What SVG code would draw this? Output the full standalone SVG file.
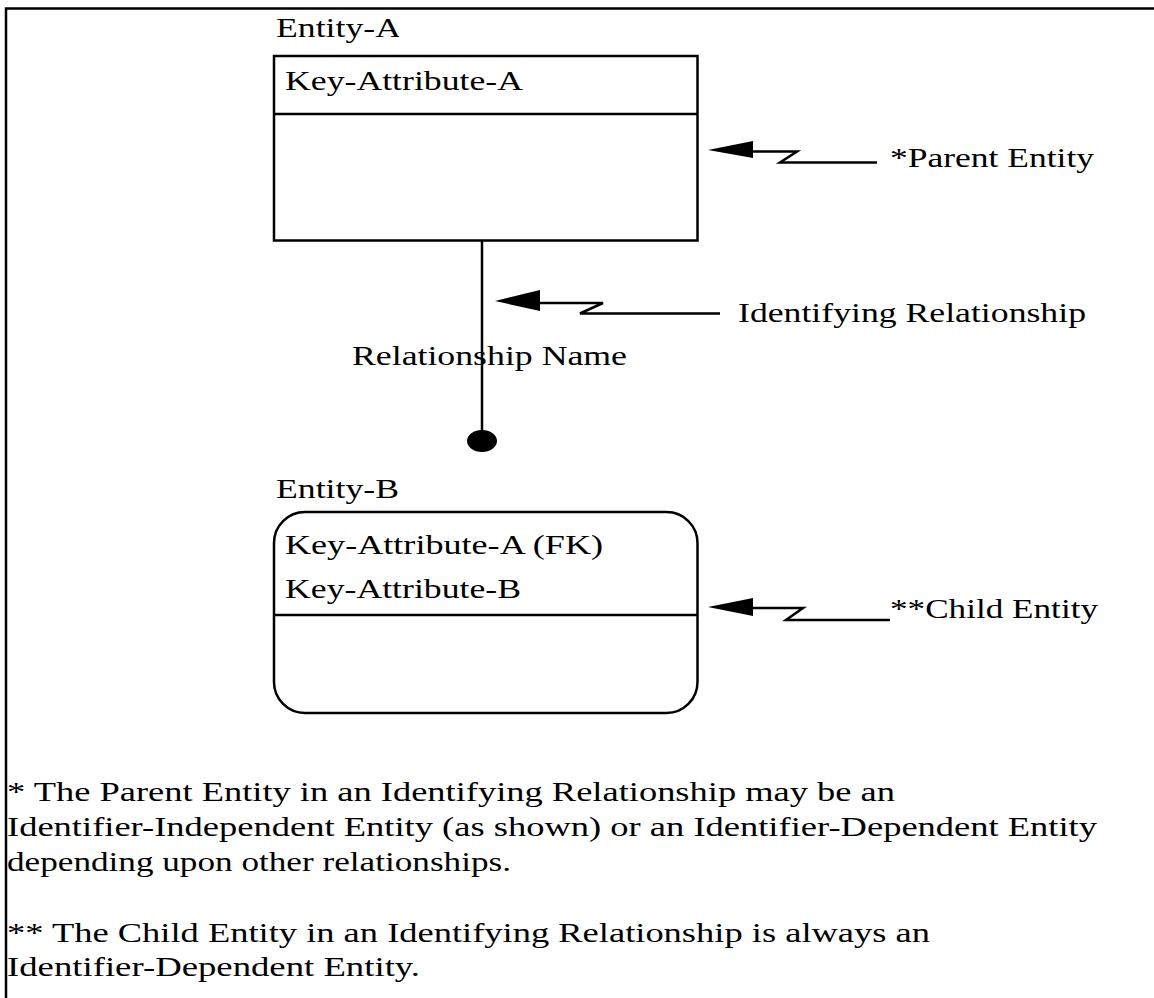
<svg xmlns="http://www.w3.org/2000/svg" width="1154" height="998" viewBox="0 0 1154 998">
  <style>
    .frame { fill: none; stroke: #000; stroke-width: 2.5; }
    .box { fill: #fff; stroke: #000; stroke-width: 2.5; }
    .line { fill: none; stroke: #000; stroke-width: 2.5; }
    .head { fill: #000; stroke: none; }
    .lbl { font-family: "Liberation Serif", "Times New Roman", serif; font-size: 27px; fill: #000; }
    .note { font-family: "Liberation Serif", "Times New Roman", serif; font-size: 27px; fill: #000; }
  </style>
  <defs>
    <clipPath id="clip-title-a"><rect x="270" y="0" width="129" height="50"/></clipPath>
    <clipPath id="clip-fk"><rect x="280" y="520" width="322" height="45"/></clipPath>
  </defs>
  <rect width="1154" height="998" fill="#fff"/>

  <!-- page frame: top and left rules -->
  <path class="frame" d="M6,998 V8.5 H1154"/>

  <!-- parent entity -->
  <g id="entity-a">
    <text class="lbl" x="276" y="37" textLength="125" lengthAdjust="spacingAndGlyphs" clip-path="url(#clip-title-a)">Entity-A</text>
    <rect class="box" x="274" y="56" width="423.5" height="184.5"/>
    <line class="line" x1="274" y1="114" x2="697.5" y2="114"/>
    <text class="lbl" x="285" y="90" textLength="238" lengthAdjust="spacingAndGlyphs">Key-Attribute-A</text>
  </g>

  <!-- child entity -->
  <g id="entity-b">
    <text class="lbl" x="276" y="498" textLength="123" lengthAdjust="spacingAndGlyphs">Entity-B</text>
    <rect class="box" x="274" y="512" width="423.5" height="201" rx="31" ry="31"/>
    <line class="line" x1="274" y1="615" x2="697.5" y2="615"/>
    <text class="lbl" x="285" y="554" textLength="318" lengthAdjust="spacingAndGlyphs" clip-path="url(#clip-fk)">Key-Attribute-A (FK)</text>
    <text class="lbl" x="285" y="598" textLength="236" lengthAdjust="spacingAndGlyphs">Key-Attribute-B</text>
  </g>

  <!-- identifying relationship line with its dot end -->
  <g id="connectors">
    <line class="line" x1="482" y1="240.5" x2="482" y2="436"/>
    <ellipse class="head" cx="482" cy="441" rx="15" ry="11"/>
    <text class="lbl" x="352" y="365" textLength="275" lengthAdjust="spacingAndGlyphs">Relationship Name</text>
  </g>

  <!-- callouts -->
  <g id="callout-parent">
    <polygon class="head" points="708,150 753,141 753,158"/>
    <path class="line" d="M752,151.5 H797 L780,162.5 H877"/>
    <text class="lbl" x="890" y="167" textLength="204" lengthAdjust="spacingAndGlyphs">*Parent Entity</text>
  </g>

  <g id="callout-relationship">
    <polygon class="head" points="495,301 540,290 540,311"/>
    <path class="line" d="M539,303 H603 L580,313.5 H720"/>
    <text class="lbl" x="738" y="322" textLength="348" lengthAdjust="spacingAndGlyphs">Identifying Relationship</text>
  </g>

  <g id="callout-child">
    <polygon class="head" points="708,607 753,598 753,616"/>
    <path class="line" d="M752,608 H803 L786,620 H890"/>
    <text class="lbl" x="890" y="618" textLength="208" lengthAdjust="spacingAndGlyphs">**Child Entity</text>
  </g>

  <!-- footnotes -->
  <g id="notes">
    <text class="note" x="7" y="801" textLength="888" lengthAdjust="spacingAndGlyphs">* The Parent Entity in an Identifying Relationship may be an</text>
    <text class="note" x="7" y="836" textLength="1090" lengthAdjust="spacingAndGlyphs">Identifier-Independent Entity (as shown) or an Identifier-Dependent Entity</text>
    <text class="note" x="7" y="871" textLength="504" lengthAdjust="spacingAndGlyphs">depending upon other relationships.</text>
    <text class="note" x="7" y="942" textLength="923" lengthAdjust="spacingAndGlyphs">** The Child Entity in an Identifying Relationship is always an</text>
    <text class="note" x="7" y="976" textLength="413" lengthAdjust="spacingAndGlyphs">Identifier-Dependent Entity.</text>
  </g>
</svg>
